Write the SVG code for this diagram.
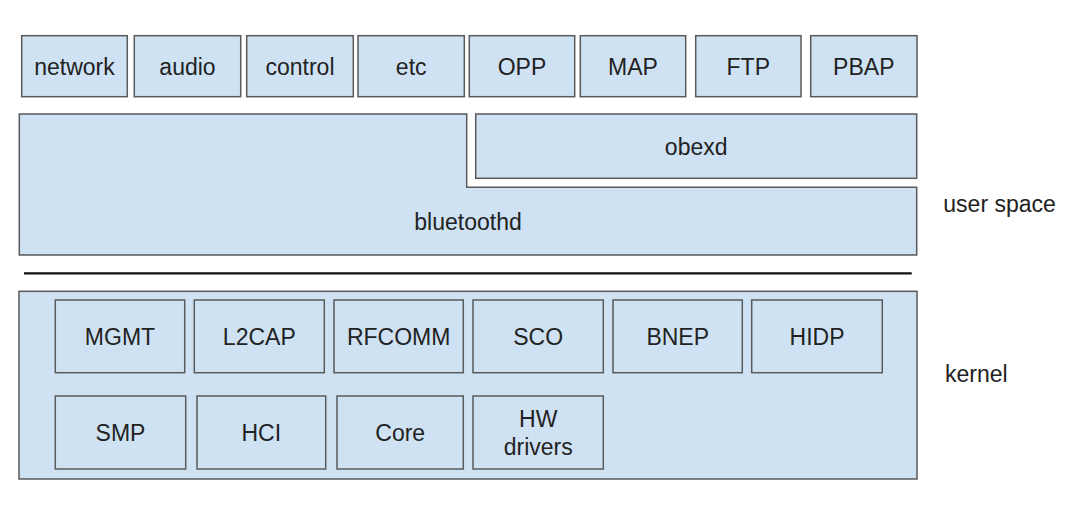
<svg xmlns="http://www.w3.org/2000/svg" width="1067" height="507" viewBox="0 0 1067 507">
<style>
.box{fill:#cfe2f3;stroke:#5a5a5a;stroke-width:1.5}
.t{font-family:"Liberation Sans",Arial,sans-serif;font-size:23px;fill:#222;text-anchor:middle}
.side{font-family:"Liberation Sans",Arial,sans-serif;font-size:23px;fill:#222}
</style>
<rect width="1067" height="507" fill="#fff"/>
<g id="top-row">
<g id="network"><rect class="box" x="21.7" y="35.7" width="105.6" height="61"/><text class="t" x="74.5" y="75">network</text></g>
<g id="audio"><rect class="box" x="134.3" y="35.7" width="106.4" height="61"/><text class="t" x="187.5" y="75">audio</text></g>
<g id="control"><rect class="box" x="246.7" y="35.7" width="106.6" height="61"/><text class="t" x="300" y="75">control</text></g>
<g id="etc"><rect class="box" x="358" y="35.7" width="106.3" height="61"/><text class="t" x="411.2" y="75">etc</text></g>
<g id="OPP"><rect class="box" x="469.3" y="35.7" width="105.4" height="61"/><text class="t" x="522" y="75">OPP</text></g>
<g id="MAP"><rect class="box" x="580.3" y="35.7" width="105.4" height="61"/><text class="t" x="633" y="75">MAP</text></g>
<g id="FTP"><rect class="box" x="695.7" y="35.7" width="105.3" height="61"/><text class="t" x="748.3" y="75">FTP</text></g>
<g id="PBAP"><rect class="box" x="810.7" y="35.7" width="106.3" height="61"/><text class="t" x="863.8" y="75">PBAP</text></g>
</g>
<g id="bluetoothd"><path class="box" d="M19.3,114 H466.7 V187.3 H916.7 V255 H19.3 Z"/><text class="t" x="468" y="230">bluetoothd</text></g>
<g id="obexd"><rect class="box" x="475.7" y="114" width="441" height="64.3"/><text class="t" x="696.2" y="155">obexd</text></g>
<g id="connectors"><line id="divider" x1="24" y1="273.3" x2="911.7" y2="273.3" stroke="#111" stroke-width="2.2"/></g>
<g id="kernel"><rect class="box" x="19" y="291.3" width="898" height="187.7"/>
<g id="MGMT"><rect class="box" x="55.3" y="300" width="129.4" height="72.7"/><text class="t" x="120" y="345">MGMT</text></g>
<g id="L2CAP"><rect class="box" x="194.3" y="300" width="130" height="72.7"/><text class="t" x="259.3" y="345">L2CAP</text></g>
<g id="RFCOMM"><rect class="box" x="334" y="300" width="129.3" height="72.7"/><text class="t" x="398.7" y="345">RFCOMM</text></g>
<g id="SCO"><rect class="box" x="473" y="300" width="130.3" height="72.7"/><text class="t" x="538.2" y="345">SCO</text></g>
<g id="BNEP"><rect class="box" x="613" y="300" width="129.3" height="72.7"/><text class="t" x="677.7" y="345">BNEP</text></g>
<g id="HIDP"><rect class="box" x="751.7" y="300" width="130.6" height="72.7"/><text class="t" x="817" y="345">HIDP</text></g>
<g id="SMP"><rect class="box" x="55.3" y="396" width="130.4" height="73"/><text class="t" x="120.5" y="441">SMP</text></g>
<g id="HCI"><rect class="box" x="197" y="396" width="128.7" height="73"/><text class="t" x="261.3" y="441">HCI</text></g>
<g id="Core"><rect class="box" x="337" y="396" width="126.3" height="73"/><text class="t" x="400.2" y="441">Core</text></g>
<g id="HWdrivers"><rect class="box" x="473" y="396" width="130.3" height="73"/><text class="t" x="538.2" y="427">HW</text><text class="t" x="538.2" y="454.5">drivers</text></g>
</g>
<text class="side" x="943.3" y="212">user space</text>
<text class="side" x="945" y="382">kernel</text>
</svg>
